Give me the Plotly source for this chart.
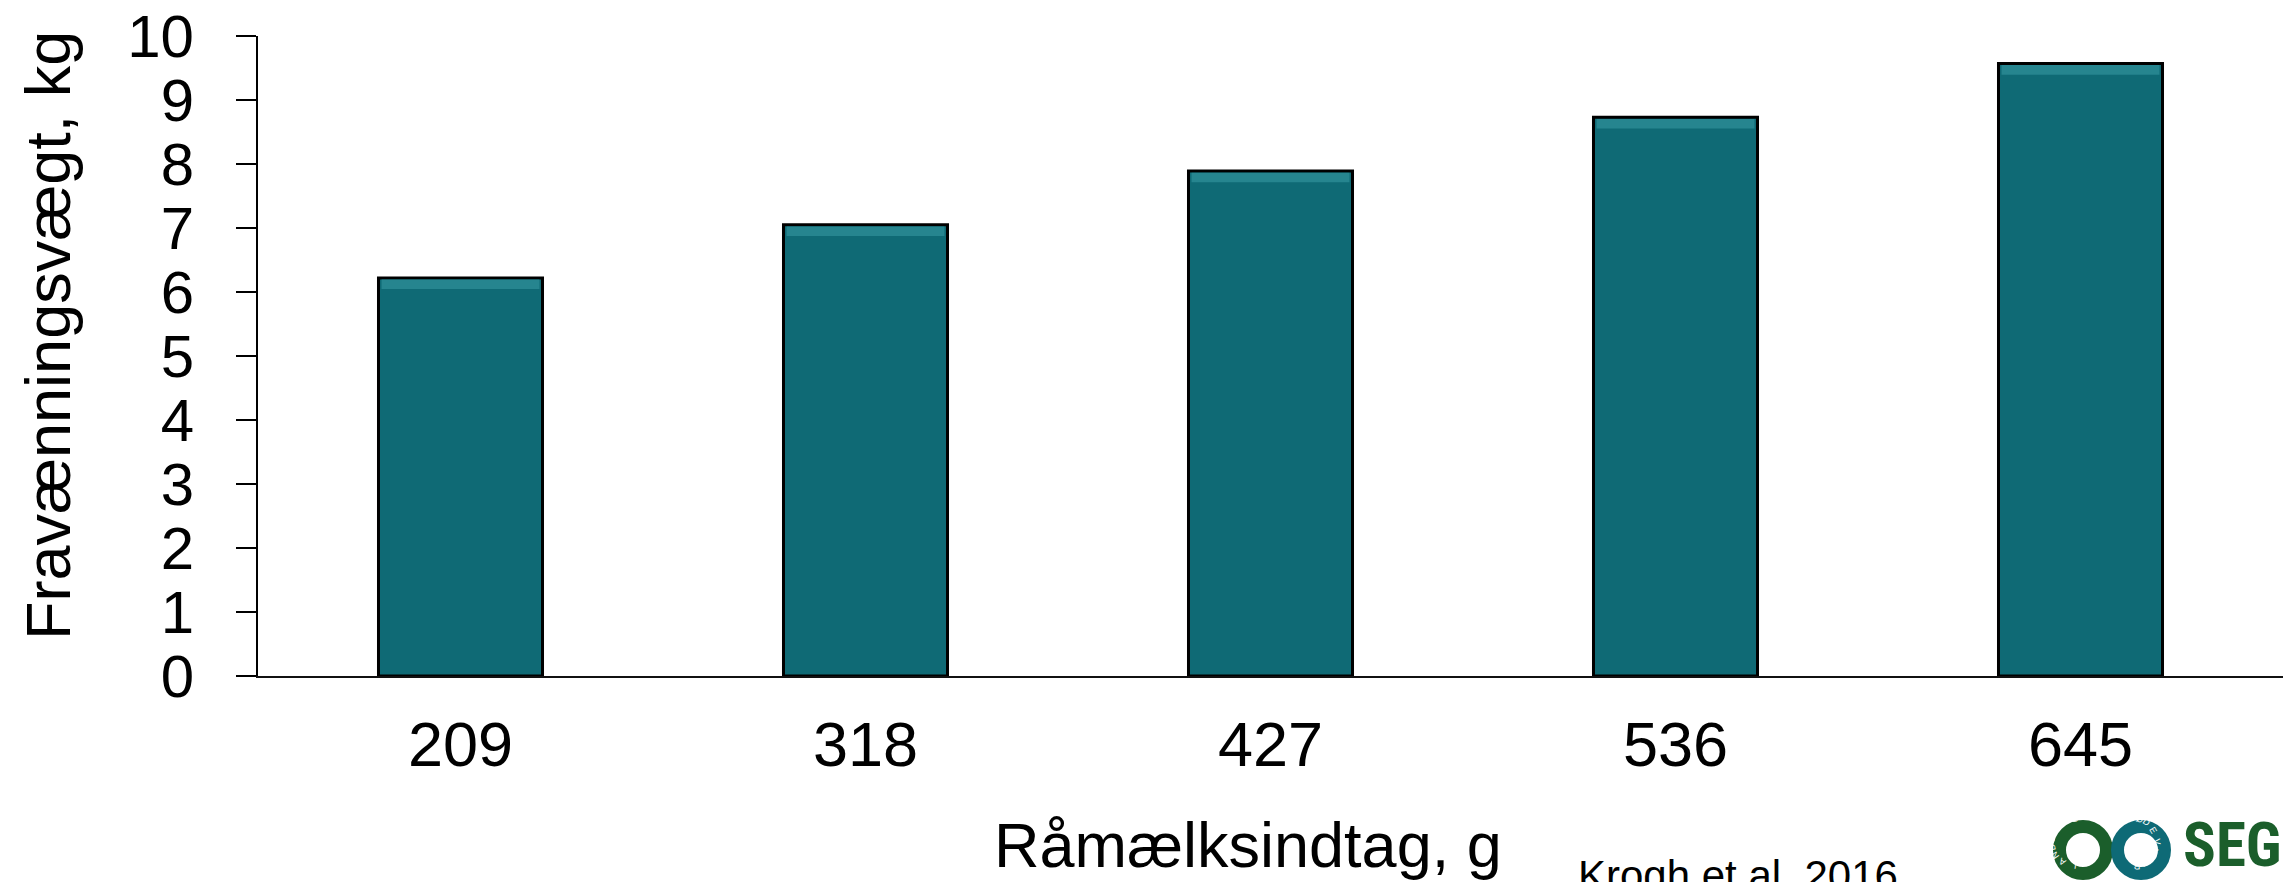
"""Fravænningsvægt vs. råmælksindtag - bar chart."""
import math

import plotly.graph_objects as go

FONT = "Liberation Sans, Arial, sans-serif"

intake = ["209", "318", "427", "536", "645"]
weaning_weight = [6.22, 7.05, 7.89, 8.73, 9.57]
y_ticks = list(range(0, 11))

bar_color = "#0f6a75"
bevel_color = "#26858f"
bevel_depth = 0.15

# the page body has an 8px margin, so the figure is drawn 8px in from the top left
OFF = 8
W, H = 2292 - OFF, 882 - OFF
PLOT_X0, PLOT_X1 = 258, 2283      # plot area in page pixels
PLOT_Y0, PLOT_Y1 = 36, 676
PW, PH = PLOT_X1 - PLOT_X0, PLOT_Y1 - PLOT_Y0


def px(x, y):
    """page pixel position -> paper coords"""
    return (x - PLOT_X0) / PW, (PLOT_Y1 - y) / PH


fig = go.Figure()
fig.add_trace(
    go.Bar(
        x=intake,
        y=weaning_weight,
        width=0.405,
        marker=dict(color=bar_color, line=dict(color="#000000", width=3)),
        hoverinfo="skip",
    )
)
# lighter bevel along the top edge of each bar
fig.add_trace(
    go.Bar(
        x=intake,
        y=[bevel_depth] * len(weaning_weight),
        base=[v - bevel_depth - 0.025 for v in weaning_weight],
        width=0.39,
        marker=dict(color=bevel_color, line=dict(width=0)),
        hoverinfo="skip",
    )
)

fig.update_layout(
    width=W,
    height=H,
    margin=dict(l=PLOT_X0 - OFF, r=W + OFF - PLOT_X1, t=PLOT_Y0 - OFF, b=H + OFF - PLOT_Y1),
    paper_bgcolor="white",
    plot_bgcolor="white",
    showlegend=False,
    barmode="overlay",
    font=dict(family=FONT, color="black"),
)
fig.update_yaxes(
    range=[0, 10],
    tickvals=y_ticks,
    showgrid=False,
    zeroline=False,
    showline=True,
    linecolor="black",
    linewidth=2,
    ticks="outside",
    ticklen=20,
    tickwidth=2,
    tickcolor="black",
    tickfont=dict(size=60, family=FONT),
    ticklabelstandoff=30,
    ticklabeloverflow="allow",
    automargin=False,
)
fig.update_xaxes(
    showgrid=False,
    zeroline=False,
    showline=True,
    linecolor="#111111",
    linewidth=2,
    ticks="",
    tickfont=dict(size=63, family=FONT),
    ticklabelstandoff=12,
    automargin=False,
)

# axis titles
ax, ay = px(48, 336)
fig.add_annotation(
    x=ax, y=ay, xref="paper", yref="paper", text="Fravænningsvægt, kg",
    textangle=-90, showarrow=False, xanchor="center", yanchor="middle",
    font=dict(size=63, family=FONT),
)
tx, ty = px(1248, 845)
fig.add_annotation(
    x=tx, y=ty, xref="paper", yref="paper", text="Råmælksindtag, g",
    showarrow=False, xanchor="center", yanchor="middle",
    font=dict(size=63, family=FONT),
)
cx, cy = px(1576, 850)
fig.add_annotation(
    x=cx, y=cy, xref="paper", yref="paper", text="Krogh et al. 2016",
    showarrow=False, xanchor="left", yanchor="top",
    font=dict(size=42, family=FONT),
)

# logo: two rings + SEG
green = "#1b5e2b"
teal = "#0e6a76"
rings = [(2083, 850, green, "LANDBRUG", 262, 96), (2141, 850, teal, "FØDEVARER", 100, -86)]
for rx, ry, col, word, a0, a1 in rings:
    ex, ey = px(rx, ry)
    fig.add_shape(
        type="circle", xref="paper", yref="paper", xsizemode="pixel", ysizemode="pixel",
        xanchor=ex, yanchor=ey, x0=-23.5, x1=23.5, y0=-23.5, y1=23.5,
        line=dict(color=col, width=13), fillcolor="rgba(0,0,0,0)",
    )
    n = len(word)
    for i, ch in enumerate(word):
        th = a0 + (a1 - a0) * i / (n - 1)
        fig.add_annotation(
            x=ex, y=ey, xref="paper", yref="paper", text=ch, showarrow=False,
            xshift=23.5 * math.cos(math.radians(th)), yshift=23.5 * math.sin(math.radians(th)),
            textangle=90 - th, font=dict(size=9, color="white", family=FONT),
        )
sx, sy = px(2284, 845)
fig.add_annotation(
    x=sx, y=sy, xref="paper", yref="paper", text="<b>SEG</b>",
    showarrow=False, xanchor="right", yanchor="middle",
    font=dict(size=61, color=green, family="Liberation Sans Narrow, Roboto Condensed, " + FONT),
)

fig.write_html("out.html")
